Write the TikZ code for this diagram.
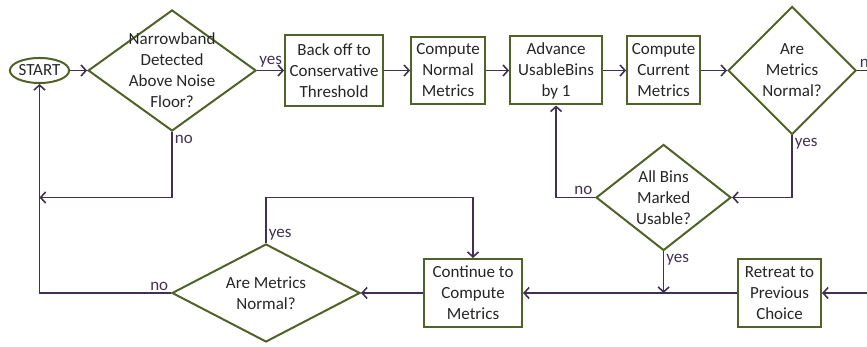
\documentclass[tikz,border=0pt]{standalone}
\usepackage{fontspec}
\setmainfont{Carlito}
\definecolor{olivegreen}{RGB}{79,98,40}
\definecolor{flowpurple}{RGB}{64,49,82}
\definecolor{textgray}{RGB}{38,38,38}
\usetikzlibrary{arrows.meta,positioning,shapes.geometric}

\begin{document}
\begin{tikzpicture}[x=1pt, y=1pt,
      font=\fontsize{17}{21}\selectfont, text=textgray,
      arr/.style={-{Straight Barb[length=5pt,width=11pt]}, line width=1.6pt, flowpurple},
      wire/.style={line width=1.6pt, flowpurple},
      stepbox/.style={draw=olivegreen, line width=2pt, fill=white,
                      align=center, inner sep=2pt},
      decision/.style={diamond, draw=olivegreen, line width=2pt, inner sep=0pt},
      startnode/.style={ellipse, draw=olivegreen, line width=2pt, inner sep=0pt,
                        minimum width=53pt, minimum height=25pt},
      lbl/.style={inner sep=2pt}
    ]
    \useasboundingbox (0,0) rectangle (867,347);
    % TOP: detection and metric steps
    \node[startnode] (start) at (39.5,276.5) {START};
    \node[decision, minimum width=168pt, minimum height=121pt, right=17pt of start,
          label={[align=center]center:Narrowband\\Detected\\Above Noise\\Floor?}] (detect) {};
    \node[stepbox, minimum width=98pt, minimum height=71pt, right=27pt of detect] (backoff)
      {Back off to\\Conservative\\Threshold};
    \node[stepbox, minimum width=74pt, minimum height=67pt, right=26pt of backoff] (normal)
      {Compute\\Normal\\Metrics};
    \node[stepbox, minimum width=92pt, minimum height=68pt, right=23pt of normal] (advance)
      {Advance\\UsableBins\\by 1};
    \node[stepbox, minimum width=73pt, minimum height=68pt, right=23pt of advance] (current)
      {Compute\\Current\\Metrics};
    \node[decision, minimum width=128pt, minimum height=128pt, right=26pt of current,
          label={[align=center]center:Are\\Metrics\\Normal?}] (check) {};
    % MIDDLE: bin check
    \node[decision, minimum width=135pt, minimum height=106pt, below=38pt of current,
          label={[align=center]center:All Bins\\Marked\\Usable?}] (allbins) {};
    % BOTTOM: retreat and continue
    \node[stepbox, minimum width=83pt, minimum height=68pt] (retreat) at (779.5,54)
      {Retreat to\\Previous\\Choice};
    \node[stepbox, minimum width=98pt, minimum height=68pt, left=214pt of retreat] (cont)
      {Continue to\\Compute\\Metrics};
    \node[decision, minimum width=188pt, minimum height=98pt, left=62pt of cont,
          label={[align=center]center:Are Metrics\\Normal?}] (final) {};
    % free ends at the right border
    \coordinate (noexit) at (867,276.5);
    \coordinate (retin) at (867,54);
    % main row
    \draw[arr] (start) -- (detect);
    \draw[arr] (detect) -- node[lbl, above]{yes} (backoff);
    \draw[arr] (backoff) -- (normal);
    \draw[arr] (normal) -- (advance);
    \draw[arr] (advance) -- (current);
    \draw[arr] (current) -- (check);
    \draw[wire] (check.east) node[lbl, above right]{no} -- (noexit);
    % loops
    \draw[arr] (detect.south) node[lbl, below right]{no} |- (start.south |- allbins.west);
    \draw[arr] (check.south) node[lbl, below right]{yes} |- (allbins.east);
    \draw[arr] (allbins.west) node[lbl, above left]{no} -| (advance.south);
    \draw[arr] (allbins.south) node[lbl, below right]{yes} -- (allbins.south |- cont.east);
    \draw[arr] (retin) -- (retreat);
    \draw[arr] (retreat) -- (cont);
    \draw[arr] (cont) -- (final);
    \draw[arr] (final.north) node[lbl, above right]{yes} -- (final.north |- allbins.west) -| (cont.north);
    \draw[arr] (final.west) node[lbl, above left]{no} -| (start.south);
  \end{tikzpicture}
\end{document}
